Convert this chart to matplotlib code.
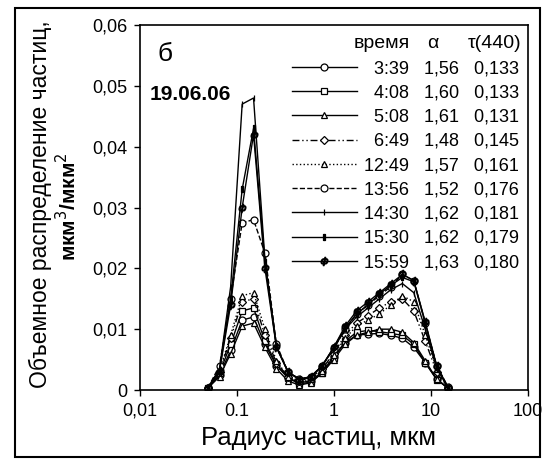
import numpy as np
import matplotlib.pyplot as plt
from matplotlib.patches import Rectangle

# AERONET-like volume size distribution, 19.06.06
radius = [0.050, 0.066, 0.086, 0.113, 0.148, 0.194, 0.255, 0.335, 0.439, 0.576, 0.756,
          0.992, 1.302, 1.708, 2.241, 2.941, 3.859, 5.064, 6.644, 8.719, 11.44, 15.00]

times = ['3:39', '4:08', '5:08', '6:49', '12:49', '13:56', '14:30', '15:30', '15:59']
alpha = ['1,56', '1,60', '1,61', '1,48', '1,57', '1,52', '1,62', '1,62', '1,63']
tau = ['0,133', '0,133', '0,131', '0,145', '0,161', '0,176', '0,181', '0,179', '0,180']

v_0339 = [0.0003, 0.0025, 0.0065, 0.0115, 0.0120, 0.0075, 0.0040, 0.0020, 0.0012, 0.0015, 0.0030,
          0.0055, 0.0078, 0.0090, 0.0092, 0.0093, 0.0090, 0.0085, 0.0070, 0.0045, 0.0018, 0.0003]
v_0408 = [0.0003, 0.0028, 0.0075, 0.0130, 0.0135, 0.0080, 0.0042, 0.0020, 0.0010, 0.0013, 0.0028,
          0.0052, 0.0080, 0.0095, 0.0098, 0.0096, 0.0093, 0.0090, 0.0075, 0.0045, 0.0017, 0.0003]
v_0508 = [0.0003, 0.0022, 0.0060, 0.0105, 0.0110, 0.0070, 0.0035, 0.0015, 0.0008, 0.0012, 0.0028,
          0.0050, 0.0075, 0.0090, 0.0095, 0.0100, 0.0100, 0.0095, 0.0078, 0.0048, 0.0018, 0.0003]
v_0649 = [0.0003, 0.0030, 0.0085, 0.0145, 0.0150, 0.0090, 0.0045, 0.0022, 0.0015, 0.0020, 0.0035,
          0.0060, 0.0090, 0.0110, 0.0122, 0.0135, 0.0145, 0.0150, 0.0130, 0.0080, 0.0030, 0.0004]
v_1249 = [0.0003, 0.0032, 0.0090, 0.0155, 0.0160, 0.0100, 0.0048, 0.0022, 0.0014, 0.0018, 0.0032,
          0.0058, 0.0085, 0.0105, 0.0115, 0.0125, 0.0140, 0.0155, 0.0145, 0.0090, 0.0035, 0.0004]
v_1356 = [0.0003, 0.0040, 0.0150, 0.0275, 0.0280, 0.0225, 0.0075, 0.0030, 0.0018, 0.0022, 0.0040,
          0.0068, 0.0100, 0.0125, 0.0140, 0.0155, 0.0170, 0.0190, 0.0180, 0.0110, 0.0040, 0.0005]
v_1430 = [0.0003, 0.0035, 0.0170, 0.0470, 0.0480, 0.0215, 0.0070, 0.0030, 0.0018, 0.0022, 0.0040,
          0.0068, 0.0100, 0.0120, 0.0135, 0.0150, 0.0165, 0.0175, 0.0160, 0.0100, 0.0035, 0.0004]
v_1530 = [0.0003, 0.0033, 0.0150, 0.0330, 0.0430, 0.0210, 0.0072, 0.0030, 0.0017, 0.0021, 0.0040,
          0.0070, 0.0102, 0.0125, 0.0140, 0.0158, 0.0172, 0.0185, 0.0178, 0.0110, 0.0038, 0.0004]
v_1559 = [0.0003, 0.0032, 0.0140, 0.0300, 0.0420, 0.0200, 0.0070, 0.0030, 0.0017, 0.0021, 0.0040,
          0.0070, 0.0105, 0.0130, 0.0145, 0.0160, 0.0175, 0.0190, 0.0180, 0.0112, 0.0040, 0.0004]

series = [v_0339, v_0408, v_0508, v_0649, v_1249, v_1356, v_1430, v_1530, v_1559]

styles = [
    dict(ls='-', marker='o', ms=5),
    dict(ls='-', marker='s', ms=5),
    dict(ls='-', marker='^', ms=5),
    dict(ls=(0, (5, 2, 1, 2, 1, 2)), marker='D', ms=4),
    dict(ls=':', marker='^', ms=5),
    dict(ls='--', marker='o', ms=5),
    dict(ls='-', marker='|', ms=4),
    dict(ls='-', marker='$\u2225$', ms=5),
    dict(ls='-', marker='$ф$', ms=6),
]

plt.rcParams['font.family'] = ['Liberation Sans', 'DejaVu Sans']

fig = plt.figure(figsize=(5.44, 4.59), dpi=100)
ax = fig.add_axes([0.2574, 0.1503, 0.7132, 0.7952])

handles = []
for vals, st in zip(series, styles):
    h, = ax.plot(radius, vals, color='black', lw=1.0, mfc='white', mec='black',
                 mew=0.9, **st)
    handles.append(h)

labels = ['{}   {}   {}'.format(t.rjust(5, '\u2007'), a, tt) for t, a, tt in zip(times, alpha, tau)]

ax.set_xscale('log')
ax.set_xlim(0.01, 100)
ax.set_ylim(0, 0.06)
ax.set_xticks([0.01, 0.1, 1, 10, 100])
ax.set_xticklabels(['0,01', '0.1', '1', '10', '100'])
ax.xaxis.set_minor_locator(plt.NullLocator())
ax.set_yticks([0, 0.01, 0.02, 0.03, 0.04, 0.05, 0.06])
ax.set_yticklabels(['0', '0,01', '0,02', '0,03', '0,04', '0,05', '0,06'])
ax.tick_params(labelsize=13, length=4, width=1, direction='out', pad=5)
for s in ax.spines.values():
    s.set_linewidth(1.2)

ax.legend(handles, labels, loc='upper right', bbox_to_anchor=(1.0, 0.928),
          frameon=False, fontsize=13, handlelength=3.6, handletextpad=0.4,
          labelspacing=0.4, borderaxespad=0.1)
# column headers of the legend table
ax.text(0.696, 0.95, 'время', transform=ax.transAxes, fontsize=14, ha='right', va='center')
ax.text(0.755, 0.95, 'α', transform=ax.transAxes, fontsize=14, ha='center', va='center')
ax.text(0.982, 0.95, 'τ(440)', transform=ax.transAxes, fontsize=14, ha='right', va='center')

ax.text(0.045, 0.92, 'б', transform=ax.transAxes, fontsize=19, ha='left', va='center')
ax.text(0.025, 0.81, '19.06.06', transform=ax.transAxes, fontsize=15, fontweight='bold',
        ha='left', va='center')

fig.text(0.074, 0.555, 'Объемное распределение частиц,', rotation=90, ha='center',
         va='center', fontsize=16.5)
fig.text(0.125, 0.55, 'мкм$^3$/мкм$^2$', rotation=90, ha='center', va='center',
         fontsize=15, fontweight='bold')
fig.text(0.585, 0.045, 'Радиус частиц, мкм', ha='center', va='center', fontsize=18.5)

fig.patches.append(Rectangle((0.0276, 0.004), 0.965, 0.978, transform=fig.transFigure,
                             fill=False, lw=1.5, ec='black'))

fig.savefig('out.png', dpi=100)
